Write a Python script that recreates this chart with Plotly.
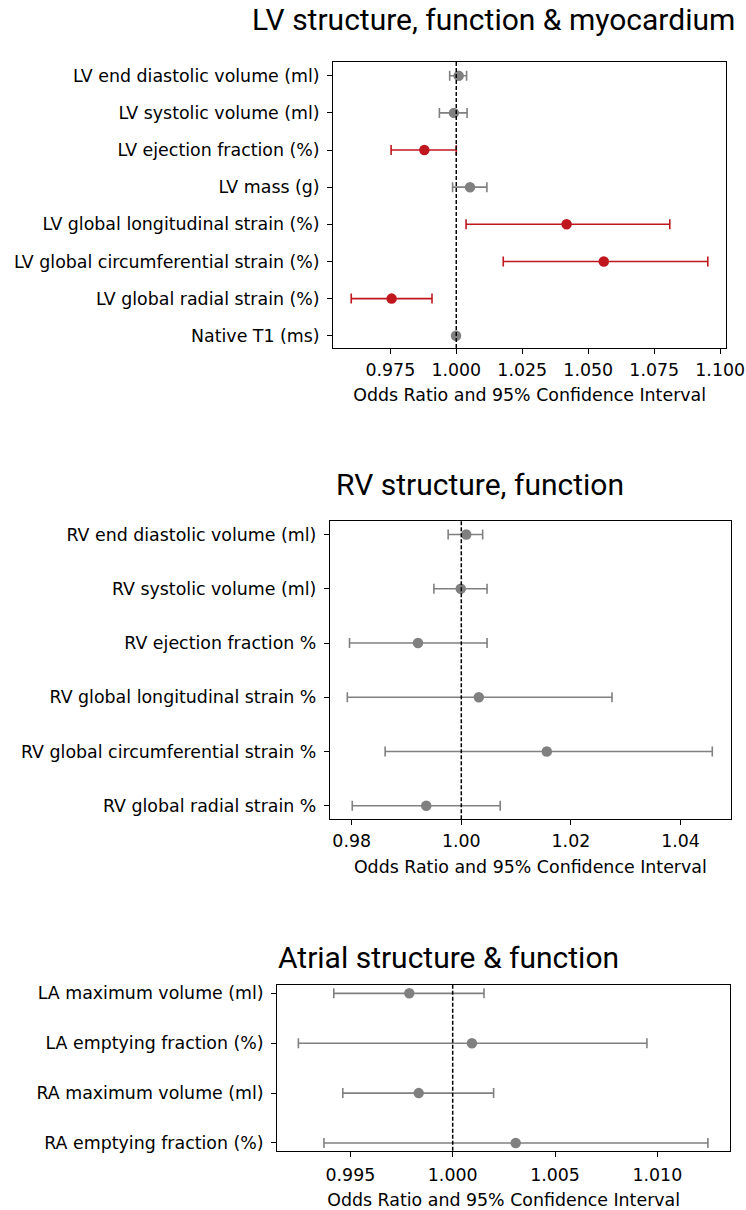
import plotly.graph_objects as go

W, H = 746, 1210

# ---------------- data ----------------
lv_labels = ["LV end diastolic volume (ml)", "LV systolic volume (ml)", "LV ejection fraction (%)",
             "LV mass (g)", "LV global longitudinal strain (%)", "LV global circumferential strain (%)",
             "LV global radial strain (%)", "Native T1 (ms)"]
lv_or = [1.0009, 0.9991, 0.9879, 1.0052, 1.0418, 1.0559, 0.9755, 0.9999]
lv_lo = [0.9975, 0.9936, 0.9753, 0.9986, 1.0037, 1.0178, 0.9602, 0.9996]
lv_hi = [1.0039, 1.0041, 1.0000, 1.0116, 1.0809, 1.0953, 0.9908, 1.0002]
lv_sig = [False, False, True, False, True, True, True, False]
lv_ticks = [0.975, 1.000, 1.025, 1.050, 1.075, 1.100]

rv_labels = ["RV end diastolic volume (ml)", "RV systolic volume (ml)", "RV ejection fraction %",
             "RV global longitudinal strain %", "RV global circumferential strain %", "RV global radial strain %"]
rv_or = [1.0009, 0.9999, 0.9921, 1.0032, 1.0156, 0.9936]
rv_lo = [0.9976, 0.9950, 0.9796, 0.9792, 0.9861, 0.9801]
rv_hi = [1.0039, 1.0047, 1.0047, 1.0275, 1.0458, 1.0071]
rv_sig = [False] * 6
rv_ticks = [0.98, 1.00, 1.02, 1.04]

at_labels = ["LA maximum volume (ml)", "LA emptying fraction (%)", "RA maximum volume (ml)", "RA emptying fraction (%)"]
at_or = [0.99788, 1.00094, 0.99834, 1.00308]
at_lo = [0.99419, 0.99246, 0.99463, 0.99371]
at_hi = [1.00153, 1.00949, 1.00200, 1.01247]
at_sig = [False] * 4
at_ticks = [0.995, 1.000, 1.005, 1.010]

titles = ["LV structure, function & myocardium", "RV structure, function", "Atrial structure & function"]
xtitle = "Odds Ratio and 95% Confidence Interval"

GRAY = "#808080"
RED = "#c0171f"
TICKFONT = dict(family="DejaVu Sans", size=17.4, color="black")

panels = [
    dict(labels=lv_labels, orv=lv_or, lo=lv_lo, hi=lv_hi, sig=lv_sig, ticks=lv_ticks, fmt=".3f",
         px=(333.3, 726.0, 62.0, 348.0), xr=(0.9534, 1.1022), pad=(0.37, 0.33),
         title_xy=(493, 20), title_size=30, standoff=9, xlab_off=1),
    dict(labels=rv_labels, orv=rv_or, lo=rv_lo, hi=rv_hi, sig=rv_sig, ticks=rv_ticks, fmt=".2f",
         px=(330.0, 730.7, 521.0, 819.3), xr=(0.97604, 1.04916), pad=(0.25, 0.25),
         title_xy=(480, 484), title_size=30, standoff=10, xlab_off=1),
    dict(labels=at_labels, orv=at_or, lo=at_lo, hi=at_hi, sig=at_sig, ticks=at_ticks, fmt=".3f",
         px=(277.3, 730.0, 985.0, 1150.7), xr=(0.99143, 1.01355), pad=(0.167, 0.155),
         title_xy=(449, 957), title_size=30, standoff=12, xlab_off=3),
]

fig = go.Figure()
layout = dict(width=W, height=H, autosize=False, margin=dict(l=0, r=0, t=0, b=0, pad=0),
              paper_bgcolor="white", plot_bgcolor="white", showlegend=False,
              shapes=[], annotations=[])

for i, p in enumerate(panels, start=1):
    sfx = "" if i == 1 else str(i)
    xa, ya = "x" + sfx, "y" + sfx
    n = len(p["labels"])
    for sig_flag, col in ((False, GRAY), (True, RED)):
        idx = [k for k in range(n) if p["sig"][k] == sig_flag]
        if not idx:
            continue
        fig.add_trace(go.Scatter(
            x=[p["orv"][k] for k in idx], y=[k for k in idx], mode="markers",
            marker=dict(color=col, size=10.5, line=dict(width=0)),
            error_x=dict(type="data", symmetric=False,
                         array=[p["hi"][k] - p["orv"][k] for k in idx],
                         arrayminus=[p["orv"][k] - p["lo"][k] for k in idx],
                         color=col, thickness=1.6, width=5),
            xaxis=xa, yaxis=ya, hoverinfo="skip"))
    l, r, t, b = p["px"]
    layout["xaxis" + sfx] = dict(
        domain=[l / W, r / W], anchor=ya, range=list(p["xr"]), automargin=False,
        tickvals=p["ticks"], tickformat=p["fmt"], ticks="outside", ticklen=5, tickwidth=1.2,
        tickcolor="black", tickfont=TICKFONT, showgrid=False, zeroline=False,
        ticklabelstandoff=p["xlab_off"],
        showline=True, linecolor="black", linewidth=1.3, mirror=True,
        title=dict(text=xtitle, font=TICKFONT, standoff=p["standoff"]))
    layout["yaxis" + sfx] = dict(
        domain=[1 - b / H, 1 - t / H], anchor=xa, range=[n - 1 + p["pad"][1], -p["pad"][0]],
        automargin=False, ticklabelstandoff=4,
        tickvals=list(range(n)), ticktext=p["labels"], ticks="outside", ticklen=5, tickwidth=1.2,
        tickcolor="black", tickfont=TICKFONT, showgrid=False, zeroline=False,
        showline=True, linecolor="black", linewidth=1.3, mirror=True)
    layout["shapes"].append(dict(type="line", xref=xa, yref=ya + " domain", x0=1, x1=1, y0=0, y1=1,
                                 line=dict(color="black", width=1.5, dash="4px,2px"), layer="above"))
    tx, ty = p["title_xy"]
    layout["annotations"].append(dict(text=titles[i - 1],
                                      xref="paper", yref="paper", x=tx / W, y=1 - ty / H,
                                      xanchor="center", yanchor="middle", showarrow=False,
                                      font=dict(family="Roboto", size=p["title_size"], color="black")))

fig.update_layout(**layout)
fig.write_html("out.html")
